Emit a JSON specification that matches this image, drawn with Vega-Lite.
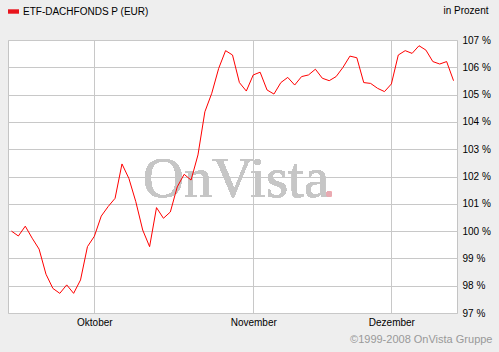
{
  "$schema": "https://vega.github.io/schema/vega-lite/v6.json",
  "width": 449,
  "height": 273,
  "autosize": {"type": "none"},
  "padding": {"left": 8, "top": 40, "right": 42, "bottom": 39},
  "background": "#eeeeee",
  "config": {
    "view": {"fill": "#ffffff", "stroke": "#c4c4c4", "strokeWidth": 1},
    "font": "Liberation Sans"
  },
  "data": {
    "values": [
      {"date": "2008-09-15", "value": 100.00, "series": "ETF-DACHFONDS P (EUR)"},
      {"date": "2008-09-16", "value": 99.82, "series": "ETF-DACHFONDS P (EUR)"},
      {"date": "2008-09-17", "value": 100.18, "series": "ETF-DACHFONDS P (EUR)"},
      {"date": "2008-09-18", "value": 99.74, "series": "ETF-DACHFONDS P (EUR)"},
      {"date": "2008-09-19", "value": 99.34, "series": "ETF-DACHFONDS P (EUR)"},
      {"date": "2008-09-22", "value": 98.42, "series": "ETF-DACHFONDS P (EUR)"},
      {"date": "2008-09-23", "value": 97.90, "series": "ETF-DACHFONDS P (EUR)"},
      {"date": "2008-09-24", "value": 97.72, "series": "ETF-DACHFONDS P (EUR)"},
      {"date": "2008-09-25", "value": 98.03, "series": "ETF-DACHFONDS P (EUR)"},
      {"date": "2008-09-26", "value": 97.72, "series": "ETF-DACHFONDS P (EUR)"},
      {"date": "2008-09-29", "value": 98.21, "series": "ETF-DACHFONDS P (EUR)"},
      {"date": "2008-09-30", "value": 99.43, "series": "ETF-DACHFONDS P (EUR)"},
      {"date": "2008-10-01", "value": 99.81, "series": "ETF-DACHFONDS P (EUR)"},
      {"date": "2008-10-02", "value": 100.55, "series": "ETF-DACHFONDS P (EUR)"},
      {"date": "2008-10-03", "value": 100.90, "series": "ETF-DACHFONDS P (EUR)"},
      {"date": "2008-10-06", "value": 101.20, "series": "ETF-DACHFONDS P (EUR)"},
      {"date": "2008-10-07", "value": 102.46, "series": "ETF-DACHFONDS P (EUR)"},
      {"date": "2008-10-08", "value": 101.93, "series": "ETF-DACHFONDS P (EUR)"},
      {"date": "2008-10-09", "value": 101.08, "series": "ETF-DACHFONDS P (EUR)"},
      {"date": "2008-10-10", "value": 100.04, "series": "ETF-DACHFONDS P (EUR)"},
      {"date": "2008-10-13", "value": 99.43, "series": "ETF-DACHFONDS P (EUR)"},
      {"date": "2008-10-14", "value": 100.86, "series": "ETF-DACHFONDS P (EUR)"},
      {"date": "2008-10-15", "value": 100.47, "series": "ETF-DACHFONDS P (EUR)"},
      {"date": "2008-10-16", "value": 100.70, "series": "ETF-DACHFONDS P (EUR)"},
      {"date": "2008-10-17", "value": 101.62, "series": "ETF-DACHFONDS P (EUR)"},
      {"date": "2008-10-20", "value": 102.08, "series": "ETF-DACHFONDS P (EUR)"},
      {"date": "2008-10-21", "value": 101.87, "series": "ETF-DACHFONDS P (EUR)"},
      {"date": "2008-10-22", "value": 102.79, "series": "ETF-DACHFONDS P (EUR)"},
      {"date": "2008-10-23", "value": 104.37, "series": "ETF-DACHFONDS P (EUR)"},
      {"date": "2008-10-24", "value": 105.05, "series": "ETF-DACHFONDS P (EUR)"},
      {"date": "2008-10-27", "value": 105.96, "series": "ETF-DACHFONDS P (EUR)"},
      {"date": "2008-10-28", "value": 106.61, "series": "ETF-DACHFONDS P (EUR)"},
      {"date": "2008-10-29", "value": 106.45, "series": "ETF-DACHFONDS P (EUR)"},
      {"date": "2008-10-30", "value": 105.44, "series": "ETF-DACHFONDS P (EUR)"},
      {"date": "2008-10-31", "value": 105.13, "series": "ETF-DACHFONDS P (EUR)"},
      {"date": "2008-11-03", "value": 105.72, "series": "ETF-DACHFONDS P (EUR)"},
      {"date": "2008-11-04", "value": 105.82, "series": "ETF-DACHFONDS P (EUR)"},
      {"date": "2008-11-05", "value": 105.17, "series": "ETF-DACHFONDS P (EUR)"},
      {"date": "2008-11-06", "value": 105.02, "series": "ETF-DACHFONDS P (EUR)"},
      {"date": "2008-11-07", "value": 105.44, "series": "ETF-DACHFONDS P (EUR)"},
      {"date": "2008-11-10", "value": 105.63, "series": "ETF-DACHFONDS P (EUR)"},
      {"date": "2008-11-11", "value": 105.35, "series": "ETF-DACHFONDS P (EUR)"},
      {"date": "2008-11-12", "value": 105.66, "series": "ETF-DACHFONDS P (EUR)"},
      {"date": "2008-11-13", "value": 105.72, "series": "ETF-DACHFONDS P (EUR)"},
      {"date": "2008-11-14", "value": 105.93, "series": "ETF-DACHFONDS P (EUR)"},
      {"date": "2008-11-17", "value": 105.60, "series": "ETF-DACHFONDS P (EUR)"},
      {"date": "2008-11-18", "value": 105.51, "series": "ETF-DACHFONDS P (EUR)"},
      {"date": "2008-11-19", "value": 105.66, "series": "ETF-DACHFONDS P (EUR)"},
      {"date": "2008-11-20", "value": 106.00, "series": "ETF-DACHFONDS P (EUR)"},
      {"date": "2008-11-21", "value": 106.41, "series": "ETF-DACHFONDS P (EUR)"},
      {"date": "2008-11-24", "value": 106.35, "series": "ETF-DACHFONDS P (EUR)"},
      {"date": "2008-11-25", "value": 105.44, "series": "ETF-DACHFONDS P (EUR)"},
      {"date": "2008-11-26", "value": 105.41, "series": "ETF-DACHFONDS P (EUR)"},
      {"date": "2008-11-27", "value": 105.23, "series": "ETF-DACHFONDS P (EUR)"},
      {"date": "2008-11-28", "value": 105.11, "series": "ETF-DACHFONDS P (EUR)"},
      {"date": "2008-12-01", "value": 105.39, "series": "ETF-DACHFONDS P (EUR)"},
      {"date": "2008-12-02", "value": 106.45, "series": "ETF-DACHFONDS P (EUR)"},
      {"date": "2008-12-03", "value": 106.61, "series": "ETF-DACHFONDS P (EUR)"},
      {"date": "2008-12-04", "value": 106.51, "series": "ETF-DACHFONDS P (EUR)"},
      {"date": "2008-12-05", "value": 106.79, "series": "ETF-DACHFONDS P (EUR)"},
      {"date": "2008-12-08", "value": 106.63, "series": "ETF-DACHFONDS P (EUR)"},
      {"date": "2008-12-09", "value": 106.21, "series": "ETF-DACHFONDS P (EUR)"},
      {"date": "2008-12-10", "value": 106.12, "series": "ETF-DACHFONDS P (EUR)"},
      {"date": "2008-12-11", "value": 106.21, "series": "ETF-DACHFONDS P (EUR)"},
      {"date": "2008-12-12", "value": 105.51, "series": "ETF-DACHFONDS P (EUR)"}
    ]
  },
  "encoding": {
    "x": {
      "field": "date",
      "type": "ordinal",
      "scale": {
        "type": "point",
        "padding": 0.5,
        "domain": ["2008-09-15","2008-09-16","2008-09-17","2008-09-18","2008-09-19","2008-09-22","2008-09-23","2008-09-24","2008-09-25","2008-09-26","2008-09-29","2008-09-30","2008-10-01","2008-10-02","2008-10-03","2008-10-06","2008-10-07","2008-10-08","2008-10-09","2008-10-10","2008-10-13","2008-10-14","2008-10-15","2008-10-16","2008-10-17","2008-10-20","2008-10-21","2008-10-22","2008-10-23","2008-10-24","2008-10-27","2008-10-28","2008-10-29","2008-10-30","2008-10-31","2008-11-03","2008-11-04","2008-11-05","2008-11-06","2008-11-07","2008-11-10","2008-11-11","2008-11-12","2008-11-13","2008-11-14","2008-11-17","2008-11-18","2008-11-19","2008-11-20","2008-11-21","2008-11-24","2008-11-25","2008-11-26","2008-11-27","2008-11-28","2008-12-01","2008-12-02","2008-12-03","2008-12-04","2008-12-05","2008-12-08","2008-12-09","2008-12-10","2008-12-11","2008-12-12"]
      },
      "axis": {
        "values": ["2008-10-01", "2008-11-03", "2008-12-01"],
        "labelExpr": "datum.value == '2008-10-01' ? 'Oktober' : datum.value == '2008-11-03' ? 'November' : 'Dezember'",
        "labelAngle": 0,
        "labelFont": "Liberation Sans",
        "labelFontSize": 10,
        "labelColor": "#000000",
        "labelPadding": 4,
        "labelBaseline": "top",
        "ticks": false,
        "domain": false,
        "grid": true,
        "gridColor": "#c8c8c8",
        "gridOpacity": 1,
        "title": "©1999-2008 OnVista Gruppe",
        "titleFont": "Liberation Sans",
        "titleFontSize": 11,
        "titleFontWeight": "normal",
        "titleColor": "#999999",
        "titleAlign": "right",
        "titleBaseline": "middle",
        "titleX": 484,
        "titleY": 26
      }
    },
    "y": {
      "field": "value",
      "type": "quantitative",
      "scale": {"domain": [97, 107], "nice": false, "zero": false},
      "axis": {
        "orient": "right",
        "values": [97, 98, 99, 100, 101, 102, 103, 104, 105, 106, 107],
        "labelExpr": "datum.value + ' %'",
        "labelFont": "Liberation Sans",
        "labelFontSize": 10,
        "labelColor": "#000000",
        "labelPadding": 5,
        "labelBaseline": "middle",
        "ticks": false,
        "domain": false,
        "grid": true,
        "gridColor": "#c8c8c8",
        "gridOpacity": 1,
        "title": "in Prozent",
        "titleAngle": 0,
        "titleFont": "Liberation Sans",
        "titleFontSize": 10,
        "titleFontWeight": "normal",
        "titleColor": "#000000",
        "titleAlign": "right",
        "titleBaseline": "middle",
        "titleX": 31,
        "titleY": -30
      }
    }
  },
  "layer": [
    {
      "mark": {"type": "text", "text": "OnVista", "font": "Liberation Serif", "fontSize": 57, "align": "left", "baseline": "alphabetic", "color": "#c6c6c6"},
      "encoding": {
        "x": {"datum": "2008-10-10", "type": "ordinal"},
        "y": {"datum": 101.26, "type": "quantitative"}
      }
    },
    {
      "mark": {"type": "point", "filled": true, "size": 30, "color": "#e8aab2", "opacity": 1},
      "encoding": {
        "x": {"datum": "2008-11-18", "type": "ordinal"},
        "y": {"datum": 101.36, "type": "quantitative"}
      }
    },
    {
      "mark": {"type": "line", "strokeWidth": 1},
      "encoding": {
        "color": {
          "field": "series",
          "type": "nominal",
          "scale": {"range": ["#ff0000"]},
          "legend": {
            "title": null,
            "orient": "none",
            "legendX": 0,
            "legendY": -34,
            "symbolType": "M-1,-0.4H1V0.4H-1Z",
            "symbolSize": 121,
            "symbolFillColor": "#e8141c",
            "symbolStrokeWidth": 0,
            "labelFont": "Liberation Sans",
            "labelFontSize": 10,
            "labelColor": "#000000",
            "labelOffset": 4
          }
        }
      }
    }
  ]
}
